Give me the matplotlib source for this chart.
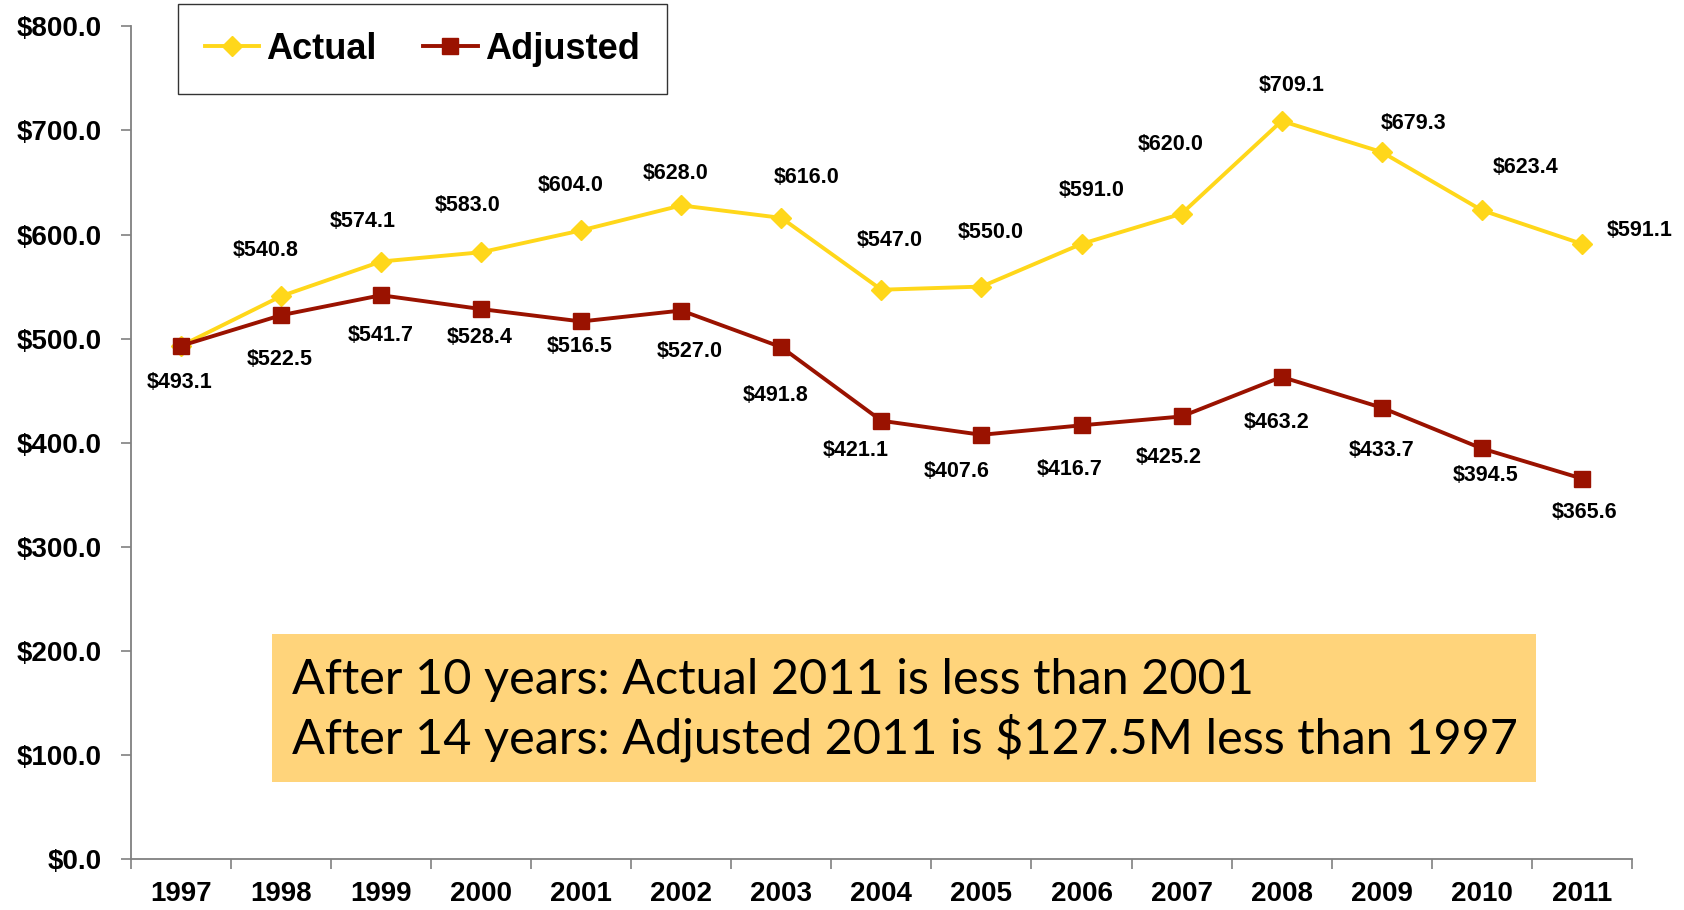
import numpy as np
import matplotlib
matplotlib.use('Agg')
import matplotlib.pyplot as plt
from matplotlib.patches import Rectangle

years = ['1997', '1998', '1999', '2000', '2001', '2002', '2003', '2004',
         '2005', '2006', '2007', '2008', '2009', '2010', '2011']
actual = [493.1, 540.8, 574.1, 583.0, 604.0, 628.0, 616.0, 547.0,
          550.0, 591.0, 620.0, 709.1, 679.3, 623.4, 591.1]
adjusted = [493.1, 522.5, 541.7, 528.4, 516.5, 527.0, 491.8, 421.1,
            407.6, 416.7, 425.2, 463.2, 433.7, 394.5, 365.6]
note_lines = ['After 10 years: Actual 2011 is less than 2001',
              'After 14 years: Adjusted 2011 is $127.5M less than 1997']

# label offsets in pixels (hand placed like the original)
act_off = [None, (-15, 46), (-18, 40), (-14, 47), (-11, 45), (-6, 32), (25, 40), (8, 49),
           (9, 54), (10, 53), (-11, 69), (10, 35), (32, 29), (44, 43), (58, 13)]
adj_off = [(-1, -37), (-1, -44), (0, -40), (-2, -28), (-2, -25), (8, -41), (-6, -48), (-26, -30),
           (-25, -37), (-12, -44), (-13, -41), (-5, -46), (0, -43), (4, -27), (3, -34)]

BOLD = ['Liberation Sans Narrow', 'Liberation Sans', 'DejaVu Sans']
YEL = '#FFD71A'
RED = '#9A1200'

fig = plt.figure(figsize=(16.84, 9.10), dpi=100)
ax = fig.add_axes([0.0778, 0.056, 0.8912, 0.915])
x = np.arange(len(years))

ax.plot(x, actual, color=YEL, lw=2.8, marker='D', ms=10, label='Actual', zorder=3)
ax.plot(x, adjusted, color=RED, lw=2.8, marker='s', ms=11, label='Adjusted', zorder=4)

for i in range(len(x)):
    if act_off[i] is not None:
        ax.annotate('$%.1f' % actual[i], (x[i], actual[i]), xytext=act_off[i],
                    textcoords='offset pixels', ha='center', va='center',
                    fontsize=15.5, fontweight='bold', family=BOLD)
    ax.annotate('$%.1f' % adjusted[i], (x[i], adjusted[i]), xytext=adj_off[i],
                textcoords='offset pixels', ha='center', va='center',
                fontsize=15.5, fontweight='bold', family=BOLD)

ax.set_xlim(-0.5, len(years) - 0.5)
ax.set_ylim(0, 800)
ax.set_yticks(np.arange(0, 801, 100))
ax.set_yticklabels(['$%.1f' % v for v in np.arange(0, 801, 100)],
                   fontsize=20, fontweight='bold', family=BOLD)
ax.set_xticks(x)
ax.set_xticklabels(years, fontsize=20, fontweight='bold', family=BOLD)
ax.set_xticks(np.arange(-0.5, len(years)), minor=True)
ax.tick_params(axis='x', which='major', length=0, pad=16)
ax.tick_params(axis='x', which='minor', length=7, width=1.2, color='#808080')
ax.tick_params(axis='y', length=7, width=1.2, color='#808080', pad=14)

for s in ['top', 'right']:
    ax.spines[s].set_visible(False)
for s in ['left', 'bottom']:
    ax.spines[s].set_color('#808080')
    ax.spines[s].set_linewidth(1.3)

leg = ax.legend(loc='upper left', bbox_to_anchor=(0.019, 1.048), ncol=2, frameon=True,
                fancybox=False, edgecolor='black', borderpad=0.75, handlelength=1.5,
                handletextpad=0.2, columnspacing=1.3, borderaxespad=0.5,
                prop={'family': BOLD, 'weight': 'bold', 'size': 26})
leg.get_frame().set_linewidth(1.0)

ax.add_patch(Rectangle((0.094, 0.0924), 0.842, 0.1776, transform=ax.transAxes,
                       facecolor='#FFD47B', edgecolor='none', zorder=2))
ax.text(0.107, 0.179, '\n'.join(note_lines), transform=ax.transAxes, fontsize=35,
        family=['Lato', 'DejaVu Sans'], va='center', ha='left', linespacing=1.3, zorder=3)

fig.savefig('out.png', dpi=100)
